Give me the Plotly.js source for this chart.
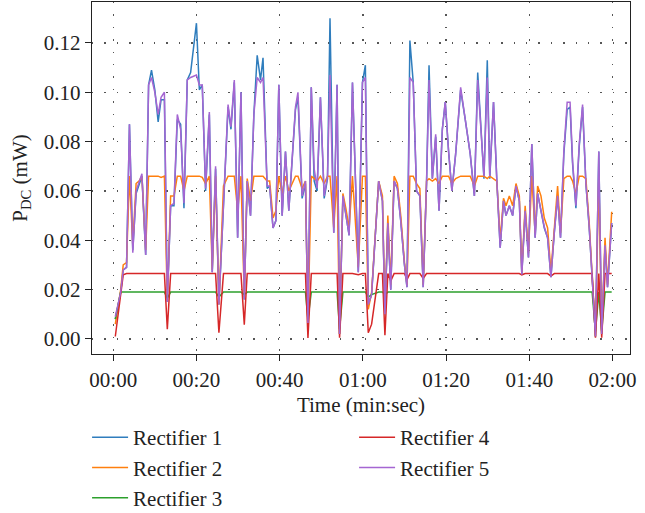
<!DOCTYPE html>
<html>
<head>
<meta charset="utf-8">
<script src="https://cdn.plot.ly/plotly-3.0.1.min.js"></script>
<style>html,body{margin:0;padding:0;background:#fff}#chart{width:645px;height:513px}</style>
</head>
<body>
<div id="chart"></div>
<script>
// Time in seconds
const timeSec = [
0.5,1.8,2.4,3.2,3.9,4.7,5.5,6.2,6.9,7.8,
8.5,9.2,10.0,10.8,11.5,12.3,13.0,13.8,14.6,15.4,
16.2,17.0,17.8,18.6,20.0,20.7,21.4,22.2,23.1,23.8,
24.6,25.4,26.5,27.6,28.3,29.1,29.9,30.7,31.5,32.2,
33.0,33.8,34.6,35.4,36.0,37.0,37.6,38.4,39.1,39.8,
40.6,41.4,42.2,43.8,44.4,45.4,46.2,46.8,47.6,48.3,
49.0,49.8,50.7,51.5,52.1,53.0,53.8,54.4,55.2,55.9,
56.7,57.5,58.9,59.9,60.6,61.3,62.1,63.8,64.7,65.3,
66.0,66.7,67.5,68.3,69.1,70.0,70.6,71.3,72.1,72.9,
73.7,74.5,75.3,75.9,76.7,77.5,78.3,79.1,79.8,80.6,
81.4,82.3,83.5,84.6,85.8,86.8,87.6,89.1,89.9,90.5,
91.4,92.2,93.0,93.8,94.4,95.2,96.0,96.8,97.6,98.2,
99.0,99.8,100.6,101.4,102.0,102.8,103.6,104.4,105.2,106.0,
106.8,107.5,108.3,109.1,109.8,110.4,111.2,112.0,112.8,113.6,
114.4,115.1,115.9,116.7,117.4,118.2,118.8,119.8];

const rect1 = [
.008,.019,.028,.029,.087,.036,.059,.063,.066,.034,
.103,.109,.101,.088,.097,.097,.015,.054,.054,.089,
.087,.053,.105,.108,.128,.101,.103,.060,.091,.027,
.069,.014,.057,.094,.085,.104,.041,.100,.016,.064,
.050,.091,.115,.105,.114,.061,.062,.045,.048,.103,
.050,.076,.052,.093,.098,.057,.063,.006,.102,.064,
.060,.098,.057,.065,.130,.043,.103,.002,.058,.050,
.042,.104,.027,.104,.111,.014,.018,.064,.056,.010,
.047,.020,.064,.061,.048,.030,.021,.121,.104,.060,
.058,.021,.063,.111,.065,.082,.052,.085,.096,.076,
.060,.075,.101,.089,.075,.058,.108,.065,.113,.065,
.096,.064,.037,.056,.050,.054,.050,.062,.056,.026,
.052,.033,.079,.041,.059,.052,.045,.041,.025,.043,
.058,.041,.075,.093,.094,.071,.053,.078,.094,.063,
.045,.025,.001,.076,.002,.038,.021,.047];

const rect2 = [
.006,.020,.030,.031,.066,.038,.063,.064,.066,.036,
.066,.066,.066,.066,.0655,.066,.015,.058,.058,.066,
.066,.060,.066,.066,.066,.066,.0655,.063,.066,.028,
.066,.014,.062,.066,.066,.066,.052,.066,.017,.065,
.056,.066,.066,.066,.066,.064,.064,.049,.052,.066,
.059,.066,.060,.066,.066,.061,.064,.006,.066,.065,
.064,.066,.063,.066,.066,.045,.066,.002,.059,.053,
.045,.066,.029,.066,.066,.012,.019,.064,.058,.010,
.050,.022,.066,.063,.050,.031,.022,.066,.066,.063,
.061,.022,.064,.065,.064,.065,.063,.066,.066,.066,
.063,.065,.066,.066,.066,.062,.066,.066,.065,.066,
.065,.064,.040,.057,.054,.058,.054,.063,.058,.027,
.054,.035,.066,.043,.062,.058,.049,.045,.027,.046,
.062,.043,.065,.066,.066,.064,.059,.066,.066,.065,
.047,.026,.001,.066,.002,.041,.022,.0516];

const rect3 = [
.008,.019,.019,.019,.019,.019,.019,.019,.019,.019,
.019,.019,.019,.019,.019,.019,.0165,.019,.019,.019,
.019,.019,.019,.019,.019,.019,.019,.019,.019,.019,
.019,.017,.019,.019,.019,.019,.019,.019,.018,.019,
.019,.019,.019,.019,.019,.019,.019,.019,.019,.019,
.019,.019,.019,.019,.019,.019,.019,.008,.019,.019,
.019,.019,.019,.019,.019,.019,.019,.004,.019,.019,
.019,.019,.019,.019,.019,.017,.018,.019,.019,.018,
.019,.019,.019,.019,.019,.019,.019,.019,.019,.019,
.019,.019,.019,.019,.019,.019,.019,.019,.019,.019,
.019,.019,.019,.019,.019,.019,.019,.019,.019,.019,
.019,.019,.019,.019,.019,.019,.019,.019,.019,.019,
.019,.019,.019,.019,.019,.019,.019,.019,.019,.019,
.019,.019,.019,.019,.019,.019,.019,.019,.019,.019,
.019,.019,.003,.019,.003,.019,.019,.019];

const rect4 = [
.001,.019,.026,.0265,.0265,.0265,.0265,.0265,.0265,.0265,
.0265,.0265,.0265,.0265,.0265,.0265,.004,.0265,.0265,.0265,
.0265,.0265,.0265,.0265,.0265,.0265,.0265,.0265,.0265,.0265,
.0265,.0025,.0265,.0265,.0265,.0265,.0265,.0265,.0058,.0265,
.0265,.0265,.0265,.0265,.0265,.0265,.0265,.0265,.0265,.0265,
.0265,.0265,.0265,.0265,.0265,.0265,.0265,.0004,.0265,.0265,
.0265,.0265,.0265,.0265,.0265,.0265,.0265,.0005,.0265,.0265,
.0265,.0265,.026,.0265,.0265,.0025,.006,.0265,.0265,.0015,
.0265,.0235,.0265,.0265,.0265,.0265,.024,.0265,.0265,.0265,
.0265,.0245,.0265,.0265,.0265,.0265,.0265,.0265,.0265,.0265,
.0265,.0265,.0265,.0265,.0265,.0265,.0265,.0265,.0265,.0265,
.0265,.0265,.0265,.0265,.0265,.0265,.0265,.0265,.0265,.026,
.0265,.0265,.0265,.0265,.0265,.0265,.0265,.0265,.0255,.0265,
.0265,.0265,.0265,.0265,.0265,.0265,.0265,.0265,.0265,.0265,
.0265,.0265,.0005,.0265,.0005,.0265,.0265,.0265];

const rect5 = [
.009,.019,.028,.029,.087,.035,.060,.064,.067,.034,
.103,.106,.100,.091,.098,.100,.015,.054,.055,.091,
.085,.055,.105,.106,.107,.103,.103,.061,.092,.027,
.070,.014,.057,.095,.086,.105,.041,.100,.016,.064,
.050,.091,.106,.104,.106,.062,.062,.045,.048,.103,
.050,.076,.052,.094,.100,.058,.064,.0065,.102,.069,
.061,.098,.058,.066,.107,.043,.103,.002,.058,.050,
.042,.104,.027,.104,.106,.014,.018,.064,.056,.010,
.047,.020,.064,.061,.048,.030,.021,.106,.104,.060,
.058,.021,.063,.105,.065,.083,.052,.085,.096,.076,
.060,.075,.102,.089,.075,.058,.105,.066,.106,.066,
.096,.064,.037,.056,.050,.054,.050,.062,.056,.026,
.052,.033,.079,.041,.059,.052,.0455,.041,.025,.043,
.058,.041,.076,.096,.096,.072,.054,.079,.095,.063,
.0455,.025,.001,.076,.002,.038,.021,.047];

const seriesNames = ['Rectifier 1','Rectifier 2','Rectifier 3','Rectifier 4','Rectifier 5'];
const seriesColors = ['#2f7dbd','#ff7f0e','#2ca02c','#d62728','#a566d2'];
const legendRanks = [1,3,5,2,4];

const xTickVals = [0,20,40,60,80,100,120];
const xTickText = ['00:00','00:20','00:40','01:00','01:20','01:40','02:00'];
const yTickVals = [0,0.02,0.04,0.06,0.08,0.10,0.12];

const allY = [rect1, rect2, rect3, rect4, rect5];
const traces = allY.map((ys, i) => ({
  type: 'scatter', mode: 'lines', x: timeSec, y: ys,
  name: seriesNames[i], legendrank: legendRanks[i],
  line: {color: seriesColors[i], width: 1.5}
}));

const fontFam = 'Liberation Serif, DejaVu Serif, serif';
const fnt = {family: fontFam, size: 21, color: '#222'};
const legFnt = {family: fontFam, size: 21, color: '#222'};
const layout = {
  width: 645, height: 513,
  margin: {l: 92, r: 15, t: 2, b: 159},
  paper_bgcolor: '#fff', plot_bgcolor: '#fff',
  font: fnt,
  showlegend: true,
  legend: {orientation: 'h', xref: 'container', yref: 'container',
           x: 0.135, xanchor: 'left', y: 0.187, yanchor: 'top',
           entrywidth: 216, entrywidthmode: 'pixels', traceorder: 'normal',
           font: legFnt, tracegroupgap: 0, itemwidth: 36},
  xaxis: {
    range: [-5.1, 124.2], tickvals: xTickVals, ticktext: xTickText,
    showline: true, mirror: true, linecolor: '#222', linewidth: 1.3,
    ticks: 'outside', ticklen: 6, tickcolor: '#222', tickfont: fnt,
    showgrid: true, gridcolor: '#555', gridwidth: 1.4, griddash: '1.4px,11px',
    zeroline: false, automargin: false,
    title: {text: 'Time (min:sec)', font: fnt, standoff: 8}
  },
  yaxis: {
    range: [-0.0061, 0.1366], tickvals: yTickVals, tickformat: '.2f',
    showline: true, mirror: true, linecolor: '#222', linewidth: 1.3,
    ticks: 'outside', ticklen: 6, tickcolor: '#222', tickfont: fnt,
    showgrid: true, gridcolor: '#555', gridwidth: 1.4, griddash: '1.4px,11px',
    zeroline: false, automargin: false,
    title: {text: 'P<sub>DC</sub> (mW)', font: fnt, standoff: 10}
  }
};
Plotly.newPlot('chart', traces, layout, {staticPlot: true, displayModeBar: false});
</script>
</body>
</html>
